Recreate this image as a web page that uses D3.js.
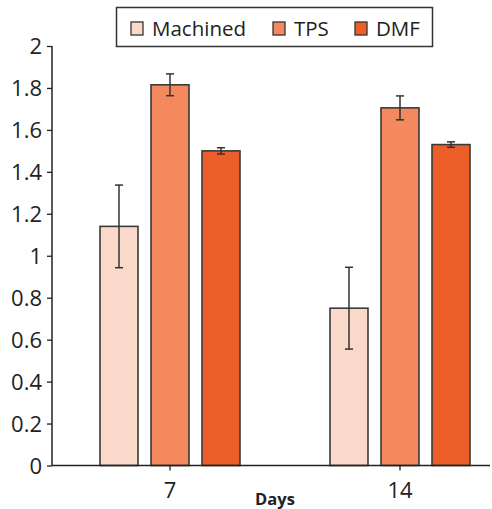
<!DOCTYPE html>
<html><head><meta charset="utf-8">
<script src="https://cdn.jsdelivr.net/npm/d3@7"></script>
<style>body{margin:0;background:#fff}svg{display:block}</style>
</head><body>
<svg id="chart" width="492" height="509"></svg>
<script>
const categories = ["7", "14"];
const series = ["Machined", "TPS", "DMF"];
const machined = [1.14, 0.75];
const machinedErr = [0.197, 0.195];
const tps = [1.815, 1.705];
const tpsErr = [0.052, 0.057];
const dmf = [1.50, 1.53];
const dmfErr = [0.015, 0.013];
const colors = ["#FAD9CA", "#F4895E", "#EE5E29"];
const yTicks = [0, 0.2, 0.4, 0.6, 0.8, 1, 1.2, 1.4, 1.6, 1.8, 2];
const yTickLabels = ["0", "0.2", "0.4", "0.6", "0.8", "1", "1.2", "1.4", "1.6", "1.8", "2"];
const xTitle = "Days";

const values = [machined, tps, dmf];
const errs = [machinedErr, tpsErr, dmfErr];
const data = [];
categories.forEach((c, ci) => series.forEach((s, si) => data.push({cat: c, s, si, v: values[si][ci], e: errs[si][ci]})));

const svg = d3.select("#chart");
const font = "'Open Sans', 'DejaVu Sans', sans-serif";
const axisLeft = 52, axisRight = 490, baseY = 465.5, topY = 46;

const y = d3.scaleLinear().domain([0, 2]).range([baseY, topY]);
const x0 = d3.scaleBand().domain(categories).range([55, 515]);
const groupW = 140;
const x1 = d3.scaleBand().domain(series).range([0, groupW]).paddingInner(0.255);
const bx = d => x0(d.cat) + x0.bandwidth() / 2 - groupW / 2 + x1(d.s);

// bars
svg.append("g").selectAll("rect").data(data).join("rect")
  .attr("x", d => bx(d))
  .attr("y", d => y(d.v))
  .attr("width", x1.bandwidth())
  .attr("height", d => y(0) - y(d.v))
  .attr("fill", d => colors[d.si])
  .attr("stroke", "#3a3a3a")
  .attr("stroke-width", 1.6);

// error bars
const eg = svg.append("g").attr("stroke", "#333").attr("stroke-width", 1.5).attr("fill", "none");
data.forEach(d => {
  const cx = bx(d) + x1.bandwidth() / 2;
  eg.append("line").attr("x1", cx).attr("x2", cx).attr("y1", y(d.v + d.e)).attr("y2", y(d.v - d.e));
  eg.append("line").attr("x1", cx - 4).attr("x2", cx + 4).attr("y1", y(d.v + d.e)).attr("y2", y(d.v + d.e));
  eg.append("line").attr("x1", cx - 4).attr("x2", cx + 4).attr("y1", y(d.v - d.e)).attr("y2", y(d.v - d.e));
});

// y axis
const yAxis = d3.axisLeft(y).tickValues(yTicks).tickFormat((d, i) => yTickLabels[i]).tickSize(5).tickSizeOuter(0);
const gy = svg.append("g").attr("transform", `translate(${axisLeft},0)`).call(yAxis);
gy.select(".domain").attr("stroke", "#222").attr("stroke-width", 1.5).attr("d", `M0,${y(2)}V${baseY}`);
gy.selectAll(".tick line").attr("stroke", "#222").attr("stroke-width", 1.3);
gy.selectAll(".tick text").attr("font-family", font).attr("font-size", 22).attr("fill", "#222").attr("x", -10).attr("dy", "0.35em");

// x axis
const xAxis = d3.axisBottom(x0).tickSize(5).tickSizeOuter(0);
const gx = svg.append("g").attr("transform", `translate(0,${baseY})`).call(xAxis);
gx.select(".domain").attr("stroke", "#222").attr("stroke-width", 1.5).attr("d", `M${axisLeft},0H${axisRight}`);
gx.selectAll(".tick line").attr("stroke", "#222").attr("stroke-width", 1.3);
gx.selectAll(".tick text").attr("font-family", font).attr("font-size", 22).attr("fill", "#222").attr("y", 32).attr("dy", "0");

svg.append("text").attr("x", 275).attr("y", 505).attr("text-anchor", "middle")
  .attr("font-family", font).attr("font-weight", "bold").attr("font-size", 16.5).attr("fill", "#222").text(xTitle);

// legend
const lg = svg.append("g");
lg.append("rect").attr("x", 116.5).attr("y", 7.5).attr("width", 316).attr("height", 39)
  .attr("fill", "#fff").attr("stroke", "#333").attr("stroke-width", 1.5);
const legX = [131, 273, 355];
series.forEach((s, i) => {
  lg.append("rect").attr("x", legX[i]).attr("y", 22).attr("width", 12).attr("height", 13)
    .attr("fill", colors[i]).attr("stroke", "#333").attr("stroke-width", 1.3);
  lg.append("text").attr("x", legX[i] + 21).attr("y", 35.5).attr("font-family", font).attr("font-size", 20.5)
    .attr("fill", "#222").text(s);
});
</script>
</body></html>
